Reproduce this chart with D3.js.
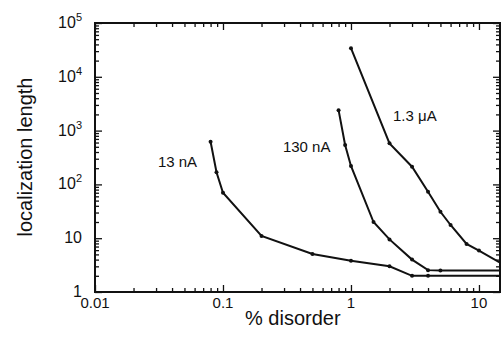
<!DOCTYPE html>
<html>
<head>
<meta charset="utf-8">
<script src="https://cdn.jsdelivr.net/npm/d3@7"></script>
<style>
  body { margin: 0; background: #fff; }
  text { font-family: "Liberation Sans", Arial, Helvetica, sans-serif; fill: #111; }
</style>
</head>
<body>
<div id="chart"></div>
<script>
// Data (x = % disorder, y = localization length)
const nA13_x = [0.08, 0.089, 0.1, 0.2, 0.5, 1, 2, 3, 4, 15]
const nA13_y = [620, 168, 70, 11, 5.1, 3.8, 3.0, 2.0, 2.0, 2.0]
const nA130_x = [0.8, 0.9, 1, 1.5, 2, 3, 4, 5, 15]
const nA130_y = [2400, 540, 220, 20, 9.5, 4.0, 2.55, 2.5, 2.5]
const uA13_x = [1, 2, 3, 4, 5, 6, 8, 10, 15]
const uA13_y = [34000, 580, 213, 73, 31, 17.6, 7.8, 5.9, 3.4]
const seriesNames = ['13 nA', '130 nA', '1.3 \u03bcA']
const xTickLabels = ['0.01', '0.1', '1', '10']
const yTickLabels = ['1', '10', '10^2', '10^3', '10^4', '10^5']

// label anchors in data units
const series = [
  {name: seriesNames[0], x: nA13_x, y: nA13_y, lx: 0.031, ly: 210},
  {name: seriesNames[1], x: nA130_x, y: nA130_y, lx: 0.294, ly: 400},
  {name: seriesNames[2], x: uA13_x, y: uA13_y, lx: 2.13, ly: 1510}
]

const width = 502, height = 337
const margin = {top: 23, bottom: 45, left: 95, right: 2}
const graphWidth = width - margin.left - margin.right
const graphHeight = height - margin.top - margin.bottom

const svg = d3.select('#chart').append('svg')
  .attr('width', width)
  .attr('height', height)

const g = svg.append('g')
  .attr('transform', `translate(${margin.left}, ${margin.top})`)

// Scales
const x = d3.scaleLog().domain([0.01, 14.6]).range([0, graphWidth])
const y = d3.scaleLog().domain([1, 1e5]).range([graphHeight, 0])

// minor ticks
const xMinor = []
for (let e = -2; e <= 1; e++) for (let m = 2; m <= 9; m++) {
  const v = m * Math.pow(10, e)
  if (v < 14.6) xMinor.push(v)
}
const yMinor = []
for (let e = 0; e < 5; e++) for (let m = 2; m <= 9; m++) yMinor.push(m * Math.pow(10, e))

const xMajor = [0.01, 0.1, 1, 10]
const yMajor = [1, 10, 100, 1000, 1e4, 1e5]

function tickAxis(axisFn, scale, values, size) {
  return axisFn(scale).tickValues(values).tickSize(size).tickFormat('')
}

// inward ticks on all four sides
const axes = [
  [d3.axisTop, x, `translate(0, ${graphHeight})`],
  [d3.axisBottom, x, 'translate(0, 0)'],
  [d3.axisRight, y, 'translate(0, 0)'],
  [d3.axisLeft, y, `translate(${graphWidth}, 0)`]
]
axes.forEach(([fn, sc, tr]) => {
  const isX = sc === x
  const ag = g.append('g').attr('transform', tr)
  ag.call(tickAxis(fn, sc, isX ? xMinor : yMinor, 4))
  ag.append('g').call(tickAxis(fn, sc, isX ? xMajor : yMajor, 7))
  ag.selectAll('path.domain').remove()
  ag.selectAll('line').attr('stroke', '#111').attr('stroke-width', 1.3)
})

// frame
g.append('rect')
  .attr('width', graphWidth)
  .attr('height', graphHeight)
  .attr('fill', 'none')
  .attr('stroke', '#111')
  .attr('stroke-width', 2)

// x tick labels
g.selectAll('.xlab')
  .data(xMajor)
  .enter().append('text')
  .attr('x', d => x(d))
  .attr('y', graphHeight + 16)
  .attr('text-anchor', 'middle')
  .attr('font-size', '15px')
  .text((d, i) => xTickLabels[i])

// y tick labels
yMajor.forEach((d, i) => {
  const t = g.append('text')
    .attr('x', -13)
    .attr('y', y(d) + 5)
    .attr('text-anchor', 'end')
    .attr('font-size', '16px')
  const parts = yTickLabels[i].split('^')
  t.append('tspan').text(parts[0])
  if (parts[1]) {
    t.append('tspan').attr('dy', -7).attr('font-size', '11px').text(parts[1])
  }
})

// axis titles
svg.append('text')
  .attr('x', 245)
  .attr('y', 325)
  .attr('font-size', '20px')
  .text('% disorder')

svg.append('text')
  .attr('transform', 'translate(32, 157) rotate(-90)')
  .attr('text-anchor', 'middle')
  .attr('font-size', '20px')
  .text('localization length')

// clip
svg.append('clipPath').attr('id', 'clip')
  .append('rect').attr('width', graphWidth).attr('height', graphHeight)

const plot = g.append('g').attr('clip-path', 'url(#clip)')
const line = d3.line().x(d => x(d[0])).y(d => y(d[1]))

series.forEach(s => {
  const pts = s.x.map((v, i) => [v, s.y[i]])
  plot.append('path')
    .datum(pts)
    .attr('d', line)
    .attr('fill', 'none')
    .attr('stroke', '#111')
    .attr('stroke-width', 2)
  plot.selectAll(null)
    .data(pts)
    .enter().append('circle')
    .attr('cx', d => x(d[0]))
    .attr('cy', d => y(d[1]))
    .attr('r', 2)
    .attr('fill', '#111')
  g.append('text')
    .attr('x', x(s.lx))
    .attr('y', y(s.ly))
    .attr('font-size', '15px')
    .text(s.name)
})
</script>
</body>
</html>
